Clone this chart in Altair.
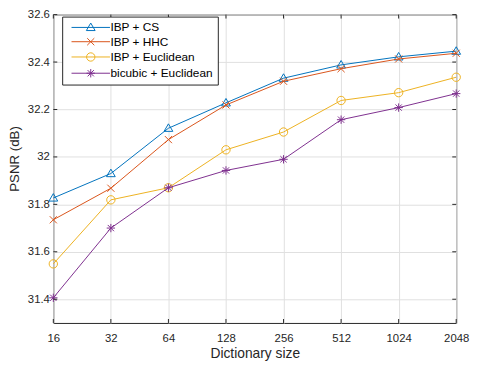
import altair as alt
import pandas as pd

sizes = [16, 32, 64, 128, 256, 512, 1024, 2048]
series_names = ["IBP + CS", "IBP + HHC", "IBP + Euclidean", "bicubic + Euclidean"]
ibp_cs = [31.827, 31.930, 32.121, 32.228, 32.332, 32.388, 32.422, 32.446]
ibp_hhc = [31.735, 31.868, 32.073, 32.219, 32.319, 32.372, 32.413, 32.437]
ibp_euc = [31.549, 31.819, 31.870, 32.030, 32.105, 32.238, 32.271, 32.336]
bicubic_euc = [31.406, 31.700, 31.870, 31.943, 31.990, 32.157, 32.208, 32.267]
colors = ["#0072BD", "#D95319", "#EDB120", "#7E2F8E"]
y_ticks = [31.4, 31.6, 31.8, 32.0, 32.2, 32.4, 32.6]

# marker shapes (plot) and legend symbols (line segment + marker)
marker_paths = [
    "M0,-1.05L1.05,0.75L-1.05,0.75Z",
    "M-0.85,-0.85L0.85,0.85M-0.85,0.85L0.85,-0.85",
    "M1,0A1,1,0,1,1,-1,0A1,1,0,1,1,1,0Z",
    "M-1,0H1M0,-1V1M-0.75,-0.75L0.75,0.75M-0.75,0.75L0.75,-0.75",
]
legend_paths = ["M-4.6,0H4.6" + p for p in marker_paths]

all_vals = [ibp_cs, ibp_hhc, ibp_euc, bicubic_euc]
rows = []
for name, vals in zip(series_names, all_vals):
    for s, v in zip(sizes, vals):
        rows.append({"size": s, "psnr": v, "series": name})
df = pd.DataFrame(rows)

W, H = 409, 313
TXT = "#262626"
FONT = "Liberation Sans"

xscale = alt.Scale(type="log", base=2, domain=[16, 2048], nice=False)
yscale = alt.Scale(domain=[31.3, 32.6], nice=False, zero=False)

x_axis = alt.Axis(values=sizes, format="d", title="Dictionary size",
                  grid=True, gridColor="#e0e0e0", ticks=False, domain=False,
                  labelFlush=False, labelPadding=10, titlePadding=3,
                  labelFontSize=11.5, titleFontSize=14, titleFontWeight="normal",
                  labelColor=TXT, titleColor=TXT, labelFont=FONT, titleFont=FONT)
y_axis = alt.Axis(values=y_ticks, format="~g", title="PSNR (dB)",
                  grid=True, gridColor="#e0e0e0", ticks=False, domain=False,
                  labelPadding=4, titlePadding=6, titleY=146,
                  labelFontSize=11.5, titleFontSize=13.5, titleFontWeight="normal",
                  labelColor=TXT, titleColor=TXT, labelFont=FONT, titleFont=FONT)

X = lambda: alt.X("size:Q", scale=xscale, axis=x_axis)
Y = lambda: alt.Y("psnr:Q", scale=yscale, axis=y_axis)

layers = []
for name, col, path in zip(series_names, colors, marker_paths):
    base = alt.Chart(df).transform_filter(alt.datum.series == name)
    layers.append(base.mark_line(strokeWidth=1, color=col).encode(x=X(), y=Y()))
    layers.append(
        base.mark_point(filled=False, strokeWidth=1, size=72, opacity=1, color=col)
        .encode(x=X(), y=Y(), shape=alt.value(path))
    )

legend_def = alt.Legend(
    orient="none", legendX=9, legendY=2, title=None,
    strokeColor=TXT, fillColor="white", padding=5,
    labelFontSize=12, labelFont=FONT, labelColor="black",
    symbolSize=72, symbolStrokeWidth=1, symbolOffset=18, labelOffset=14,
    rowPadding=2.5, symbolFillColor="transparent", labelLimit=300,
)
legend_layer = alt.Chart(df).transform_filter("false").mark_point(
    filled=False, strokeWidth=1, size=72, opacity=1
).encode(
    x=X(), y=Y(),
    color=alt.Color("series:N", scale=alt.Scale(domain=series_names, range=colors),
                    legend=legend_def),
    shape=alt.Shape("series:N", scale=alt.Scale(domain=series_names, range=legend_paths),
                    legend=legend_def),
)

tick_x = pd.DataFrame({"size": sizes})
tick_y = pd.DataFrame({"psnr": y_ticks})
tk = dict(color=TXT, strokeWidth=1)
ticks = [
    alt.Chart(tick_x).mark_rule(**tk).encode(x=X(), y=alt.value(H), y2=alt.value(H - 4)),
    alt.Chart(tick_x).mark_rule(**tk).encode(x=X(), y=alt.value(0), y2=alt.value(4)),
    alt.Chart(tick_y).mark_rule(**tk).encode(y=Y(), x=alt.value(0), x2=alt.value(4)),
    alt.Chart(tick_y).mark_rule(**tk).encode(y=Y(), x=alt.value(W), x2=alt.value(W - 4)),
]

chart = alt.layer(*layers, *ticks, legend_layer).properties(
    width=W, height=H,
    autosize="none",
    padding={"left": 46, "top": 4, "right": 14, "bottom": 42},
    background="white",
).configure_view(stroke=TXT, strokeWidth=1).configure_legend(
    labelFontSize=12, labelFont=FONT
)

chart.save("out.html", embed_options={"renderer": "svg", "actions": False})
